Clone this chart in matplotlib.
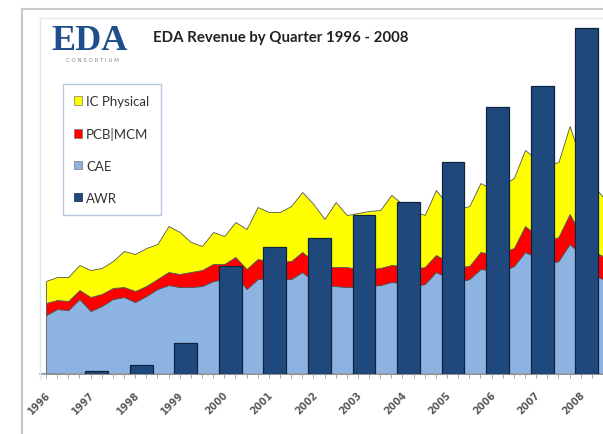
import matplotlib
matplotlib.use("Agg")
import matplotlib.pyplot as plt
from matplotlib.patches import Patch
from matplotlib.lines import Line2D
import numpy as np

# quarterly revenue, 1996 Q1 onward (relative units)
cae = [59, 65, 64, 75, 63, 68, 75, 77, 72, 78, 85, 89, 87, 87, 88, 93,
       95, 100, 85, 95, 96, 95, 95, 102, 93, 89, 88, 87, 87, 88, 89, 92,
       91, 88, 90, 102, 97, 92, 95, 105, 104, 103, 108, 122, 117, 110, 113, 130,
       120, 99, 95]
pcb = [12, 9, 9, 9, 14, 12, 11, 10, 11, 10, 10, 13, 13, 15, 16, 17,
       15, 17, 20, 20, 17, 17, 18, 20, 20, 18, 19, 20, 18, 17, 17, 17,
       17, 17, 17, 17, 16, 15, 13, 17, 16, 19, 18, 26, 22, 23, 24, 30,
       20, 24, 23]
ic = [22, 23, 24, 25, 27, 26, 27, 36, 37, 38, 35, 46, 42, 30, 24, 32,
      28, 35, 40, 52, 49, 50, 55, 60, 57, 48, 65, 52, 56, 58, 58, 70,
      62, 58, 52, 65, 57, 58, 60, 69, 65, 67, 70, 76, 76, 76, 75, 88,
      75, 67, 59]

years = [str(y) for y in range(1996, 2009)]
awr = [0, 3, 9, 31, 108, 127, 136, 159, 172, 212, 267, 288, 346]

fig = plt.figure(figsize=(6.03, 4.35), dpi=100)
ax = fig.add_axes([40/603, 60/435, 1 - 40/603, 355/435])

q = np.arange(len(cae))
ax.stackplot(q, cae, pcb, ic, colors=["#8db3e2", "#ff0000", "#ffff00"],
             edgecolor="#555555", linewidth=0.6)

yi = np.arange(len(years)) * 4
ax.bar(yi + 0.54, awr, width=2.05, color="#1f497d", edgecolor="#0e2340",
       linewidth=0.9, zorder=3)

ax.set_xlim(-0.54, 50)
ax.set_ylim(0, 355)
for s in ["top", "right", "left"]:
    ax.spines[s].set_visible(False)
ax.spines["bottom"].set_color("#9a9a9a")
ax.spines["bottom"].set_linewidth(1.2)
ax.set_yticks([])
ax.set_xticks(yi - 0.1)
ax.set_xticklabels(years, rotation=45, ha="right", va="top", rotation_mode="anchor",
                   fontsize=7, color="#5a5a5a", fontweight="bold")
ax.set_xticks(np.arange(0, 51), minor=True)
ax.tick_params(axis="x", which="major", length=0, pad=11)
ax.tick_params(axis="x", which="minor", length=3, color="#9a9a9a")

# title and logo
fig.text(153/603, 1 - 38/435, "EDA Revenue by Quarter 1996 - 2008",
         fontsize=10.8, fontweight="bold", family="Lato", color="#222222",
         va="center")
fig.text(51/603, 1 - 41/435, "EDA", fontsize=26, family="Liberation Serif",
         fontweight="bold", color="#1f4e8c", va="center")
fig.text(92/603, 1 - 61/435, "C O N S O R T I U M", fontsize=4,
         color="#888888", ha="center", va="center")

handles = [Patch(facecolor="#ffff00", edgecolor="#777777", lw=0.5),
           Patch(facecolor="#ff0000", edgecolor="#777777", lw=0.5),
           Patch(facecolor="#8db3e2", edgecolor="#777777", lw=0.5),
           Patch(facecolor="#1f497d", edgecolor="#0e2340", lw=0.5)]
leg = fig.legend(handles, ["IC Physical", "PCB|MCM", "CAE", "AWR"],
                 loc="upper left", bbox_to_anchor=(63/603, 1 - 85/435),
                 prop={"family": "Lato", "size": 9.5}, handlelength=0.6,
                 handleheight=0.6, handletextpad=0.3, labelspacing=1.5,
                 borderpad=0.85, borderaxespad=0, fancybox=False, framealpha=1)
leg.get_frame().set_edgecolor("#b8c7dc")
leg.get_frame().set_linewidth(1.0)
for t in leg.get_texts():
    t.set_color("#333333")

# frames round the picture
fig.add_artist(Line2D([22/603, 22/603], [0, 1 - 10/435], color="#c8c8c8",
                      lw=1.5, transform=fig.transFigure))
fig.add_artist(Line2D([22/603, 1], [1 - 10/435, 1 - 10/435], color="#c8c8c8",
                      lw=1.5, transform=fig.transFigure))
fig.add_artist(Line2D([40/603, 40/603], [1 - 380/435, 1 - 19/435], color="#dfe6ef",
                      lw=1, transform=fig.transFigure))
fig.add_artist(Line2D([40/603, 1], [1 - 19/435, 1 - 19/435], color="#dfe6ef",
                      lw=1, transform=fig.transFigure))

fig.savefig("out.png", dpi=100)
